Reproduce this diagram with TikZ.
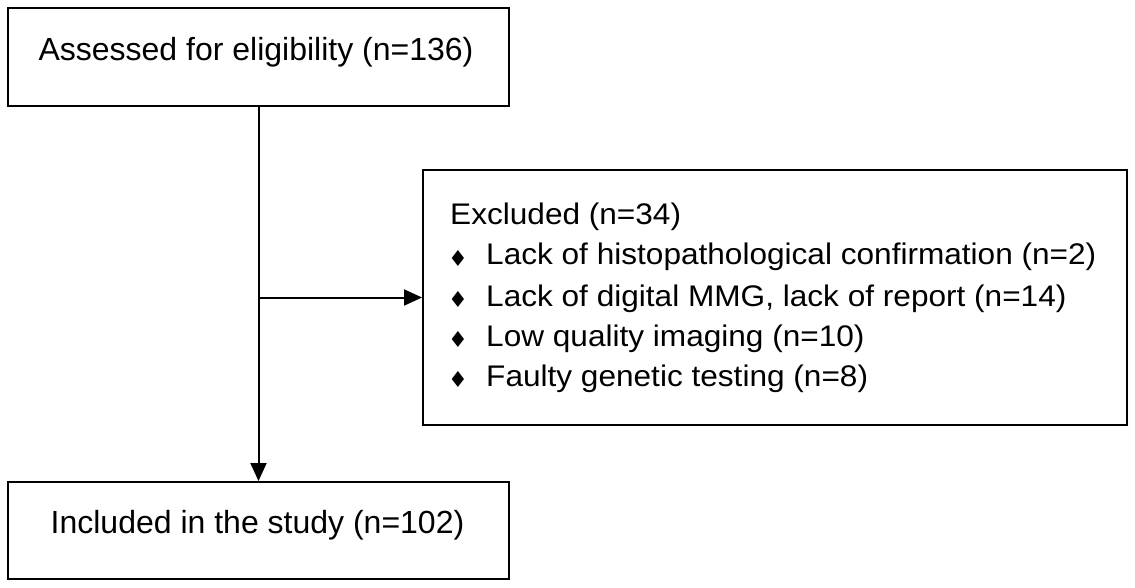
\documentclass[tikz,border=0pt]{standalone}
\usepackage{fontspec}
\setmainfont{Liberation Sans}
\newfontfamily\widesans[FakeStretch=1.06]{Liberation Sans}
\newfontfamily\djv{DejaVu Sans}
\usetikzlibrary{arrows.meta}
\tikzset{
  box/.style={draw, line width=2pt, rectangle, inner sep=0pt},
  big/.style={font=\fontsize{32}{38}\selectfont},
  small/.style={font=\widesans\fontsize{29.8}{34}\selectfont, anchor=base west, inner sep=0pt},
  bul/.style={font=\djv\fontsize{22}{24}\selectfont, inner sep=0pt},
  conn/.style={line width=2pt, -{Triangle[length=18pt,width=16pt]}}
}
\begin{document}
\begin{tikzpicture}[x=1pt,y=-1pt]
\useasboundingbox (0,0) rectangle (1135,588);
\node[box, minimum width=501pt, minimum height=98pt] (top) at (258.5,57) {};
\node[big] (toptext) at (256,52.5) {Assessed for eligibility (n=136)};
\node[box, minimum width=501pt, minimum height=97pt] (bot) at (258.5,530.5) {};
\node[big] (bottext) at (257.5,525) {Included in the study (n=102)};
\node[box, minimum width=704pt, minimum height=255pt] (excl) at (775,297.5) {};
\node[small] (e0) at (450,225) {Excluded (n=34)};
\node[small] (e1) at (486,265) {Lack of histopathological confirmation (n=2)};
\node[small] (e2) at (486,306) {Lack of digital MMG, lack of report (n=14)};
\node[small] (e3) at (486,346) {Low quality imaging (n=10)};
\node[small] (e4) at (486,386) {Faulty genetic testing (n=8)};
\node[bul] (b1) at (458,258.5) {♦};
\node[bul] (b2) at (458,299.5) {♦};
\node[bul] (b3) at (458,339.5) {♦};
\node[bul] (b4) at (458,379.5) {♦};
\coordinate (split) at (top.south |- excl.west);
\draw[conn] (top.south) -- (bot.north);
\draw[conn] (split) -- (excl.west);
\end{tikzpicture}
\end{document}
